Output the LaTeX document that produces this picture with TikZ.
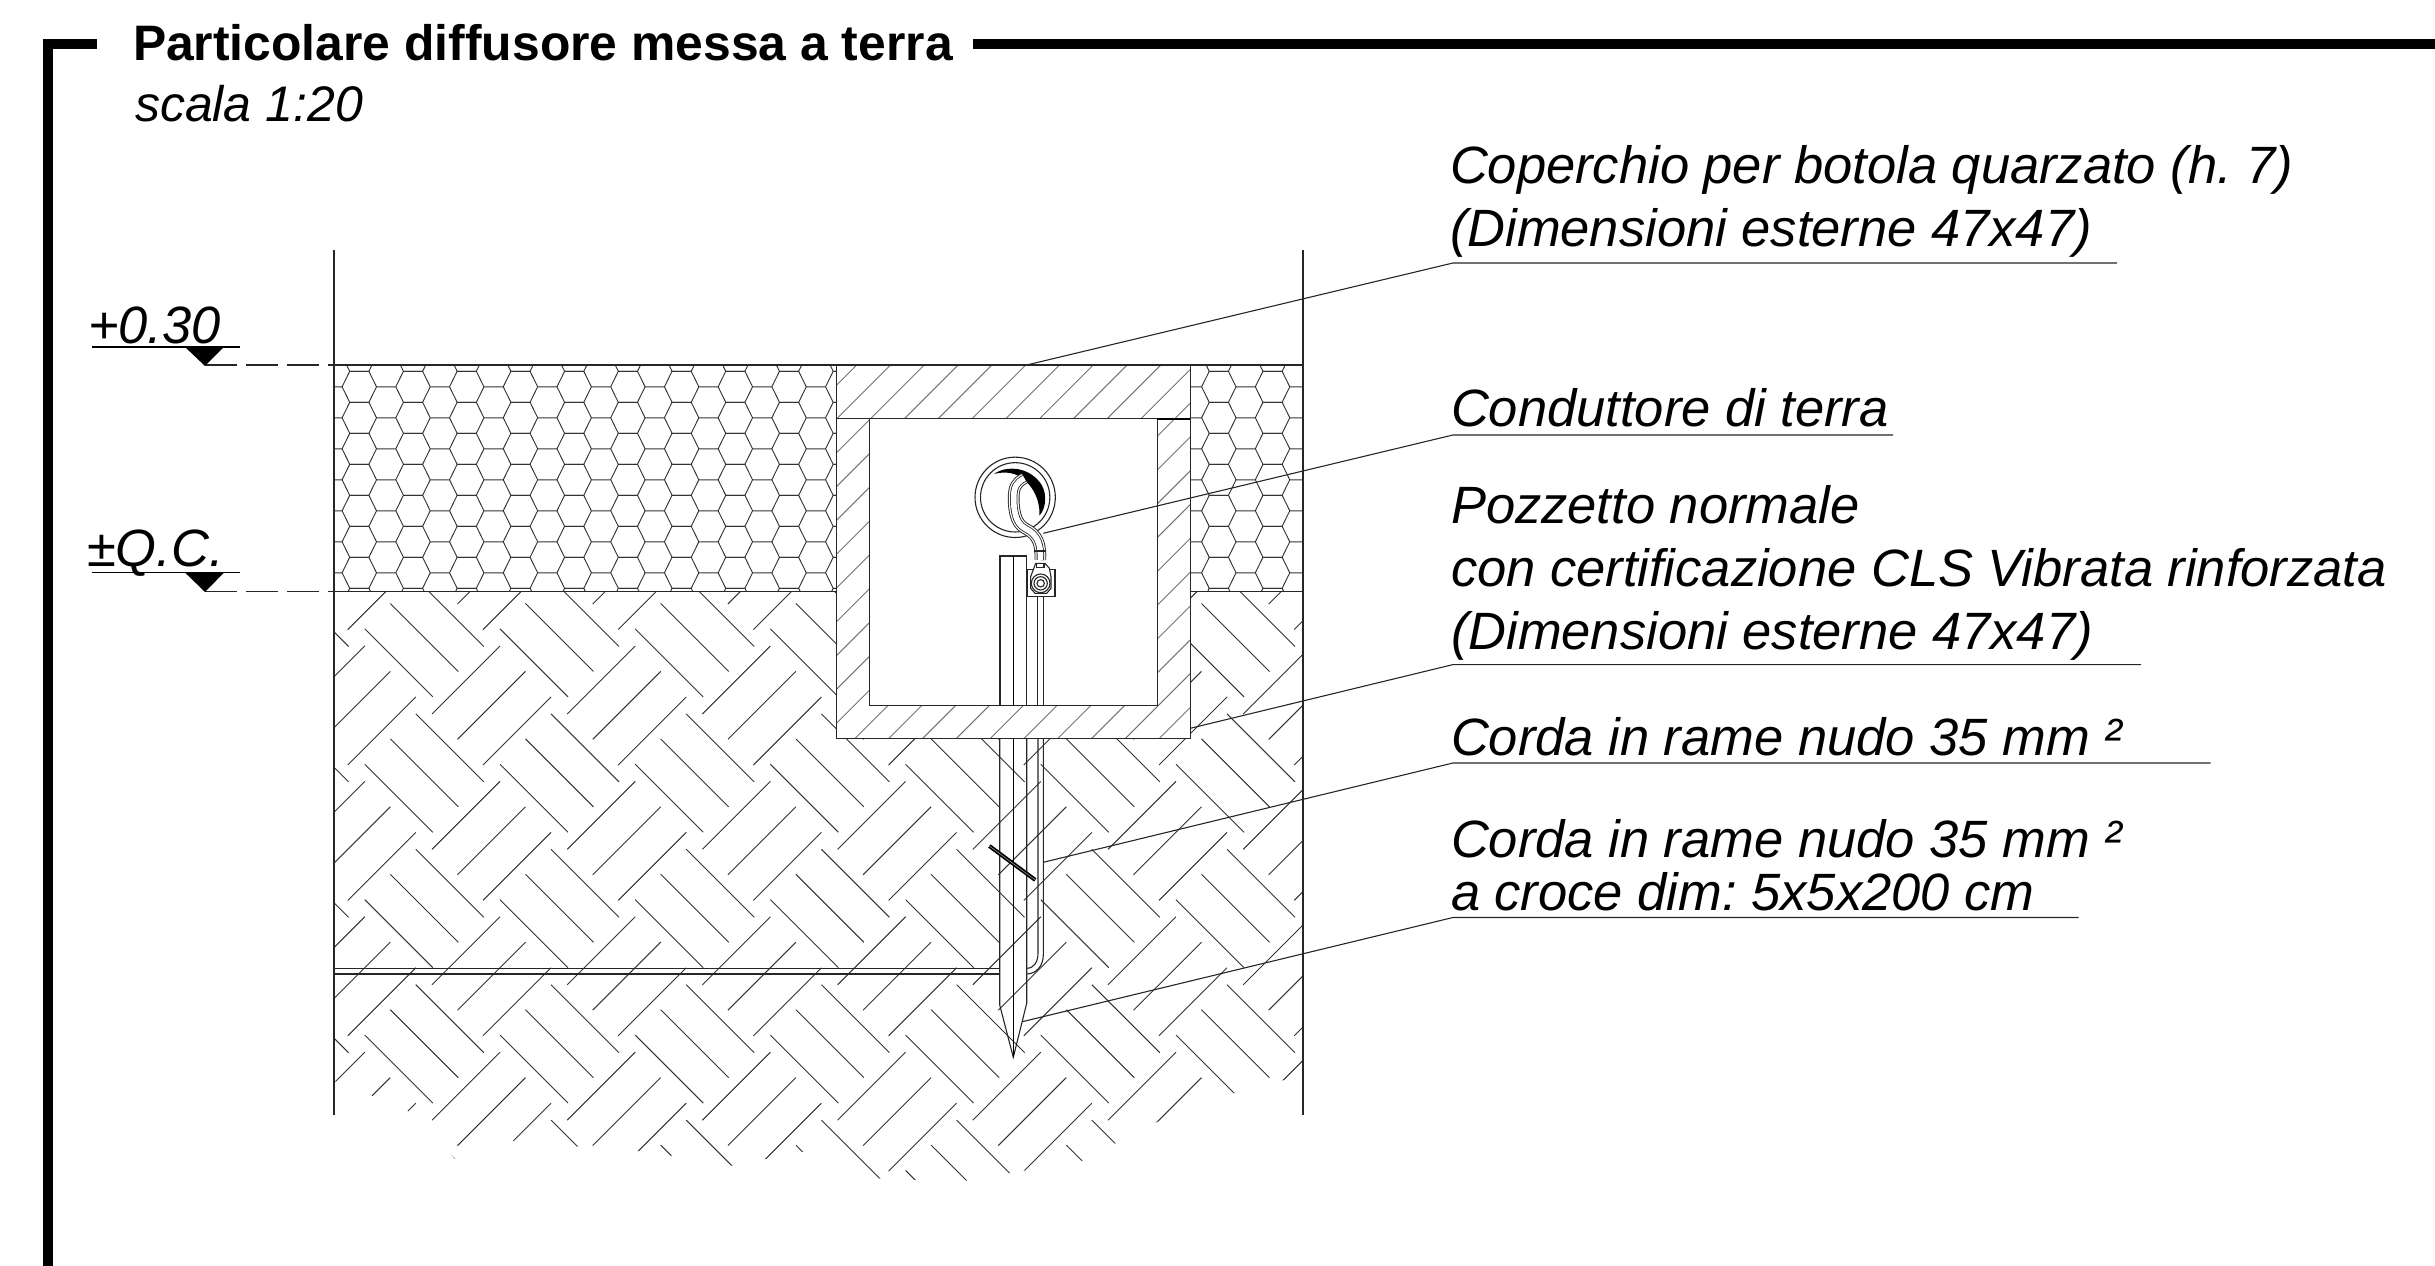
\documentclass[tikz,border=0pt]{standalone}
\usepackage{fontspec}
\setmainfont{Liberation Sans}
\frenchspacing
\tikzset{
	basicline/.style={line width=0.33pt,black!85},
	hatchline/.style={line width=0.28pt,black!80},
	wallline/.style={line width=0.28pt,black!55},
	framebar/.style={line width=3pt,black},
	label/.style={anchor=base west,inner sep=0pt,outer sep=0pt,font=\fontsize{15.75}{18}\selectfont\itshape},
	heading/.style={anchor=base west,inner sep=0pt,outer sep=0pt,font=\fontsize{14.95}{17}\selectfont\bfseries}
}
\newcommand{\tubepath}{(211,345) .. controls (213,300) and (205,270) .. (165,250)
			.. controls (135,235) and (131,190) .. (131,160)
			.. controls (131,125) and (140,112) .. (163,100)}
\begin{document}
\begin{tikzpicture}
		[x=0.3pt,y=-0.3pt]
	\useasboundingbox (0,0) rectangle (2435,1266);

	\draw[framebar] (47.7,1266) -- (47.7,44) -- (96.7,44);
	\draw[framebar] (973.4,44) -- (2435,44);
	\node[heading] (title) at (133,61) {Particolare diffusore messa a terra};
	\node[label,font=\fontsize{15}{18}\selectfont\itshape] (scale) at (135,121.5) {scala 1:20};

	\begin{scope}
		\clip (334,365) rectangle (836.7,591.7) (1190.3,365) rectangle (1303,591.7);
		\foreach \k in {-1,...,18}
			\foreach \r in {-1,...,7}
				\draw[hatchline,shift={({53.72*\k},{31*\r})}]
					(342.1,386.8) -- (349.7,371.3) -- (368.9,371.3) -- (376.5,386.8)
					-- (368.9,402.3) -- (349.7,402.3) -- cycle
					(376.5,386.8) -- (395.8,386.8);
	\end{scope}

	\begin{scope}
		\clip (334,591.7) -- (836.7,591.7) -- (836.7,738.3) -- (1190.3,738.3) -- (1190.3,591.7)
			-- (1303,591.7) -- (1303,1075) -- (1234.7,1093) -- (1157.7,1121.7) -- (1116,1143)
			-- (1082.7,1160.7) -- (1024,1170.7) -- (966.7,1180.7) -- (915,1180) -- (880,1178.7)
			-- (802.8,1151.7) -- (765.6,1159) -- (731.6,1165.7) -- (671.5,1155.7) -- (638,1151)
			-- (578,1146.7) -- (512.6,1140.7) -- (455,1159) -- (443.5,1146) -- (434,1122)
			-- (407.5,1111) -- (372,1095.7) -- (334,1081) -- cycle;
		\foreach \i in {-1,...,7}
			\foreach \j in {-2,...,4}
				\draw[hatchline,shift={({135.2*\i},{135.4*\j})}]
					(415.8,713.9) -- ++(68,68)
					(390.3,738.9) -- ++(68,68)
					(364.8,764.3) -- ++(68,68)
					(500,646) -- ++(-68,68)
					(525.5,671.4) -- ++(-68,68)
					(551,697) -- ++(-68,68);
	\end{scope}

	\begin{scope}
		\clip (836.7,365) -- (1190.3,365) -- (1190.3,738.3) -- (836.7,738.3) -- (836.7,418.7)
			-- (869.3,418.7) -- (869.3,705.7) -- (1157.3,705.7) -- (1157.3,418.7) -- (836.7,418.7) -- cycle;
		\foreach \n in {0,...,21}
			\draw[wallline] ({856.7+33.8*\n},365) -- ++(-400,400);
	\end{scope}

	\draw[basicline] (334,250) -- (334,1115);
	\draw[basicline] (1303,250) -- (1303,1115);
	\draw[basicline] (334,365) -- (1303,365);
	\draw[basicline] (334,591.7) -- (836.7,591.7) (1190.3,591.7) -- (1303,591.7);
	\draw[basicline] (836.7,365) rectangle (1190.3,738.3);
	\draw[basicline] (869.3,418.7) rectangle (1157.3,705.7);
	\draw[basicline] (836.7,418.7) -- (1190.3,418.7);
	\draw[line width=0.7pt] (1157.3,418.7) -- (1190.3,418.7);

	\draw[basicline,dash pattern=on 9.6pt off 2.7pt] (205,365) -- (334,365);
	\draw[basicline,dash pattern=on 9.6pt off 2.7pt] (205,591.7) -- (334,591.7);
	\draw[line width=0.5pt] (91.7,347) -- (240,347) (91.7,572.6) -- (240,572.6);
	\fill (185,347) -- (224,347) -- (205,366) -- cycle;
	\fill (185,572.6) -- (224,572.6) -- (205,592) -- cycle;
	\node[label] (levelA) at (88,343.5) {+0.30};
	\node[label] (levelB) at (87,566.5) {±Q.C.};

	\draw[basicline] (1000,556) rectangle (1026.7,705.7);
	\draw[line width=0.33pt] (1013.3,556) -- (1013.3,705.7);
	\draw[basicline] (1037.3,596.7) -- (1037.3,705.7) (1043.3,596.7) -- (1043.3,705.7);
	\draw[basicline] (999.7,738.3) -- (999.7,1005) -- (1013.3,1057.3) -- (1026.7,1003.3) -- (1026.7,738.3);
	\draw[line width=0.33pt] (1013.3,738.3) -- (1013.3,1057.3);
	\draw[basicline] (1038,738.3) -- (1038,953) .. controls (1038,962) and (1034,968.3) .. (1026.7,968.3);
	\draw[basicline] (1043.3,738.3) -- (1043.3,955) .. controls (1043.3,966) and (1036,974) .. (1026.7,974);
	\draw[basicline] (334,968.3) -- (999.7,968.3) (334,974) -- (999.7,974);
	\draw[line width=1.2pt] (989.3,846) -- (1035.3,880);
	\draw[line width=0.2pt,black!45] (989.3,846) -- (1035.3,880);

	\begin{scope}[shift={(970,445)},x=0.1pt,y=-0.1pt]
		\draw[basicline] (135.5,157) circle [radius=120.5];
		\draw[basicline] (135.5,157) circle [radius=104];
		\fill (72,87) .. controls (110,60) and (180,65) .. (215,120)
			.. controls (232,150) and (228,190) .. (208,212)
			.. controls (212,160) and (180,105) .. (135,88)
			.. controls (110,80) and (90,82) .. (72,87) -- cycle;
		\draw[line width=3.5pt,black!85] \tubepath;
		\draw[line width=2.95pt,white] \tubepath;
		\draw[line width=2.2pt,black!85] \tubepath;
		\draw[line width=1.7pt,white] \tubepath;
		\draw[basicline] (193,318) -- (229,318);
		\draw[basicline,fill=white] (173,373) rectangle (255,455);
		\draw[basicline,fill=white] (197,355) -- (225,355) -- (238,370) -- (243,395) -- (243,430)
			-- (230,445) -- (195,445) -- (182,430) -- (182,395) -- cycle;
		\draw[basicline] (200,355) -- (200,368) -- (222,368) -- (222,355);
		\draw[basicline] (212,415) circle [radius=28];
		\draw[basicline] (212,415) circle [radius=20];
		\draw[basicline] (212,415) circle [radius=11];
	\end{scope}

	\coordinate (coverTip) at (1026.7,365);
	\coordinate (coverA) at (1453,263);
	\coordinate (coverB) at (2117,263);
	\coordinate (wireTip) at (1043.3,533.3);
	\coordinate (wireA) at (1453,435);
	\coordinate (wireB) at (1893,435);
	\coordinate (wellTip) at (1190.3,728.3);
	\coordinate (wellA) at (1453,664.6);
	\coordinate (wellB) at (2141,664.6);
	\coordinate (ropeTip) at (1043.3,862.3);
	\coordinate (ropeA) at (1453,763);
	\coordinate (ropeB) at (2210.6,763);
	\coordinate (stakeTip) at (1022.3,1021.7);
	\coordinate (stakeA) at (1453,917.5);
	\coordinate (stakeB) at (2078.5,917.5);
	\draw[basicline] (coverTip) -- (coverA) -- (coverB);
	\draw[basicline] (wireTip) -- (wireA) -- (wireB);
	\draw[basicline] (wellTip) -- (wellA) -- (wellB);
	\draw[basicline] (ropeTip) -- (ropeA) -- (ropeB);
	\draw[basicline] (stakeTip) -- (stakeA) -- (stakeB);

	\node[label] (coverOne) at (1450,183.2) {Coperchio per botola quarzato (h. 7)};
	\node[label] (coverTwo) at (1450,246.5) {(Dimensioni esterne 47x47)};
	\node[label] (wireOne) at (1451,426.1) {Conduttore di terra};
	\node[label] (wellOne) at (1451,523.3) {Pozzetto normale};
	\node[label] (wellTwo) at (1451,586.9) {con certificazione CLS Vibrata rinforzata};
	\node[label] (wellThree) at (1451,649.5) {(Dimensioni esterne 47x47)};
	\node[label] (ropeOne) at (1451,755.5) {Corda in rame nudo 35 mm ²};
	\node[label] (stakeOne) at (1451,857.2) {Corda in rame nudo 35 mm ²};
	\node[label] (stakeTwo) at (1451,910.1) {a croce dim: 5x5x200 cm};
\end{tikzpicture}
\end{document}
